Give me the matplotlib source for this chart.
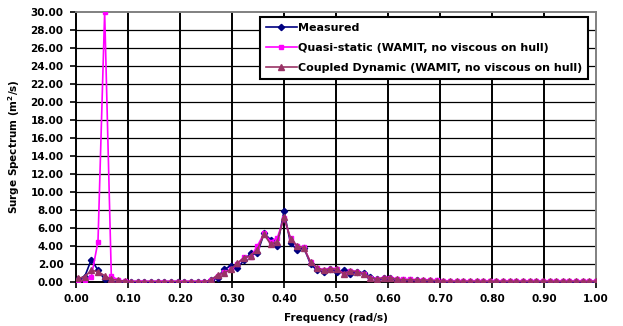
import numpy as np
import matplotlib
matplotlib.use("Agg")
import matplotlib.pyplot as plt

plt.rcParams['font.family'] = ['DejaVu Sans']

# frequency grid (rad/s), evenly sampled
freq = np.round(0.004 + 0.01277 * np.arange(79), 4)

measured = [0.3, 0.6, 2.5, 1.3, 0.3, 0.05, 0.05, 0.05, 0.05, 0.05,
            0.05, 0.05, 0.05, 0.05, 0.05, 0.05, 0.05, 0.05, 0.05, 0.05,
            0.2, 0.5, 1.4, 1.8, 1.6, 2.4, 3.2, 3.2, 5.4, 4.7,
            4.0, 7.85, 4.3, 3.6, 3.8, 2.0, 1.3, 1.15, 1.4, 1.15,
            1.3, 0.9, 1.15, 1.0, 0.6, 0.3, 0.4, 0.4, 0.2, 0.25,
            0.2, 0.2, 0.15, 0.15, 0.1, 0.03, 0.03, 0.03, 0.03, 0.03,
            0.03, 0.03, 0.03, 0.03, 0.03, 0.03, 0.03, 0.03, 0.03, 0.03,
            0.03, 0.03, 0.03, 0.03, 0.03, 0.03, 0.03, 0.03, 0.03]

quasi_static = [0.1, 0.2, 0.6, 4.5, 30.0, 0.7, 0.2, 0.1, 0.05, 0.05,
                0.05, 0.05, 0.05, 0.05, 0.05, 0.05, 0.05, 0.05, 0.05, 0.05,
                0.2, 0.7, 1.1, 1.4, 2.0, 2.8, 2.8, 4.0, 5.4, 4.5,
                4.9, 7.1, 4.9, 4.0, 3.85, 2.2, 1.6, 1.3, 1.5, 1.5,
                0.9, 1.25, 1.15, 0.9, 0.5, 0.3, 0.5, 0.5, 0.3, 0.3,
                0.3, 0.25, 0.25, 0.2, 0.2, 0.1, 0.1, 0.1, 0.1, 0.1,
                0.1, 0.1, 0.1, 0.1, 0.1, 0.1, 0.1, 0.1, 0.1, 0.1,
                0.1, 0.1, 0.1, 0.1, 0.1, 0.1, 0.1, 0.1, 0.1]

coupled = [0.4, 0.6, 1.3, 1.15, 0.7, 0.3, 0.2, 0.1, 0.05, 0.05,
           0.05, 0.05, 0.05, 0.05, 0.05, 0.05, 0.05, 0.05, 0.05, 0.05,
           0.2, 0.8, 1.0, 1.4, 2.1, 2.7, 2.9, 3.6, 5.3, 4.2,
           4.5, 7.2, 4.8, 4.0, 3.8, 2.2, 1.6, 1.3, 1.5, 1.4,
           0.9, 1.25, 1.15, 0.9, 0.5, 0.3, 0.5, 0.5, 0.3, 0.25,
           0.25, 0.25, 0.2, 0.2, 0.15, 0.08, 0.08, 0.08, 0.08, 0.08,
           0.08, 0.08, 0.08, 0.08, 0.08, 0.08, 0.08, 0.08, 0.08, 0.08,
           0.08, 0.08, 0.08, 0.08, 0.08, 0.08, 0.08, 0.08, 0.08]

labels = ['Measured',
          'Quasi-static (WAMIT, no viscous on hull)',
          'Coupled Dynamic (WAMIT, no viscous on hull)']

xticks = np.round(np.arange(0, 1.01, 0.1), 2)
yticks = np.arange(0, 31, 2)

fig = plt.figure(figsize=(6.23, 3.26), dpi=100)
ax = fig.add_axes([76 / 623, 44 / 326, 520 / 623, 270 / 326])

ax.plot(freq, measured, color='#000080', lw=1.2, marker='D', ms=3.2, label=labels[0], zorder=3)
ax.plot(freq, quasi_static, color='#FF00FF', lw=1.2, marker='s', ms=3.0, label=labels[1], zorder=4)
ax.plot(freq, coupled, color='#993366', lw=1.2, marker='^', ms=4.0, label=labels[2], zorder=5)

ax.set_xlim(0, 1)
ax.set_ylim(0, 30)
ax.set_xticks(xticks)
ax.set_yticks(yticks)
ax.set_xticklabels(['%.2f' % v for v in xticks], fontsize=7.5, fontweight='bold')
ax.set_yticklabels(['%.2f' % v for v in yticks], fontsize=7.5, fontweight='bold')

for x in xticks[1:-1]:
    ax.axvline(x, color='black', lw=1.4, zorder=1)
for y in yticks[1:-1]:
    ax.axhline(y, color='black', lw=0.9, zorder=1)

ax.spines['left'].set_linewidth(1.4)
ax.spines['bottom'].set_linewidth(1.4)
ax.spines['top'].set_color('#808080')
ax.spines['right'].set_color('#808080')
ax.spines['top'].set_linewidth(1.4)
ax.spines['right'].set_linewidth(1.4)
ax.tick_params(direction='out', length=4, width=1.2, pad=5)

ax.set_xlabel('Frequency (rad/s)', fontsize=7.5, fontweight='bold', labelpad=6)
ax.set_ylabel('Surge Spectrum (m$^\\mathbf{2}$/s)', fontsize=7.5, fontweight='bold', labelpad=6)

leg = ax.legend(loc='upper right', bbox_to_anchor=(0.985, 0.981),
                prop={'weight': 'bold', 'size': 8}, fancybox=False, framealpha=1,
                edgecolor='black', handlelength=2.8, handletextpad=0.1,
                borderpad=0.55, labelspacing=0.9, borderaxespad=0)
leg.get_frame().set_linewidth(1.5)
leg.set_zorder(10)

fig.savefig('out.png', dpi=100, facecolor='white')
